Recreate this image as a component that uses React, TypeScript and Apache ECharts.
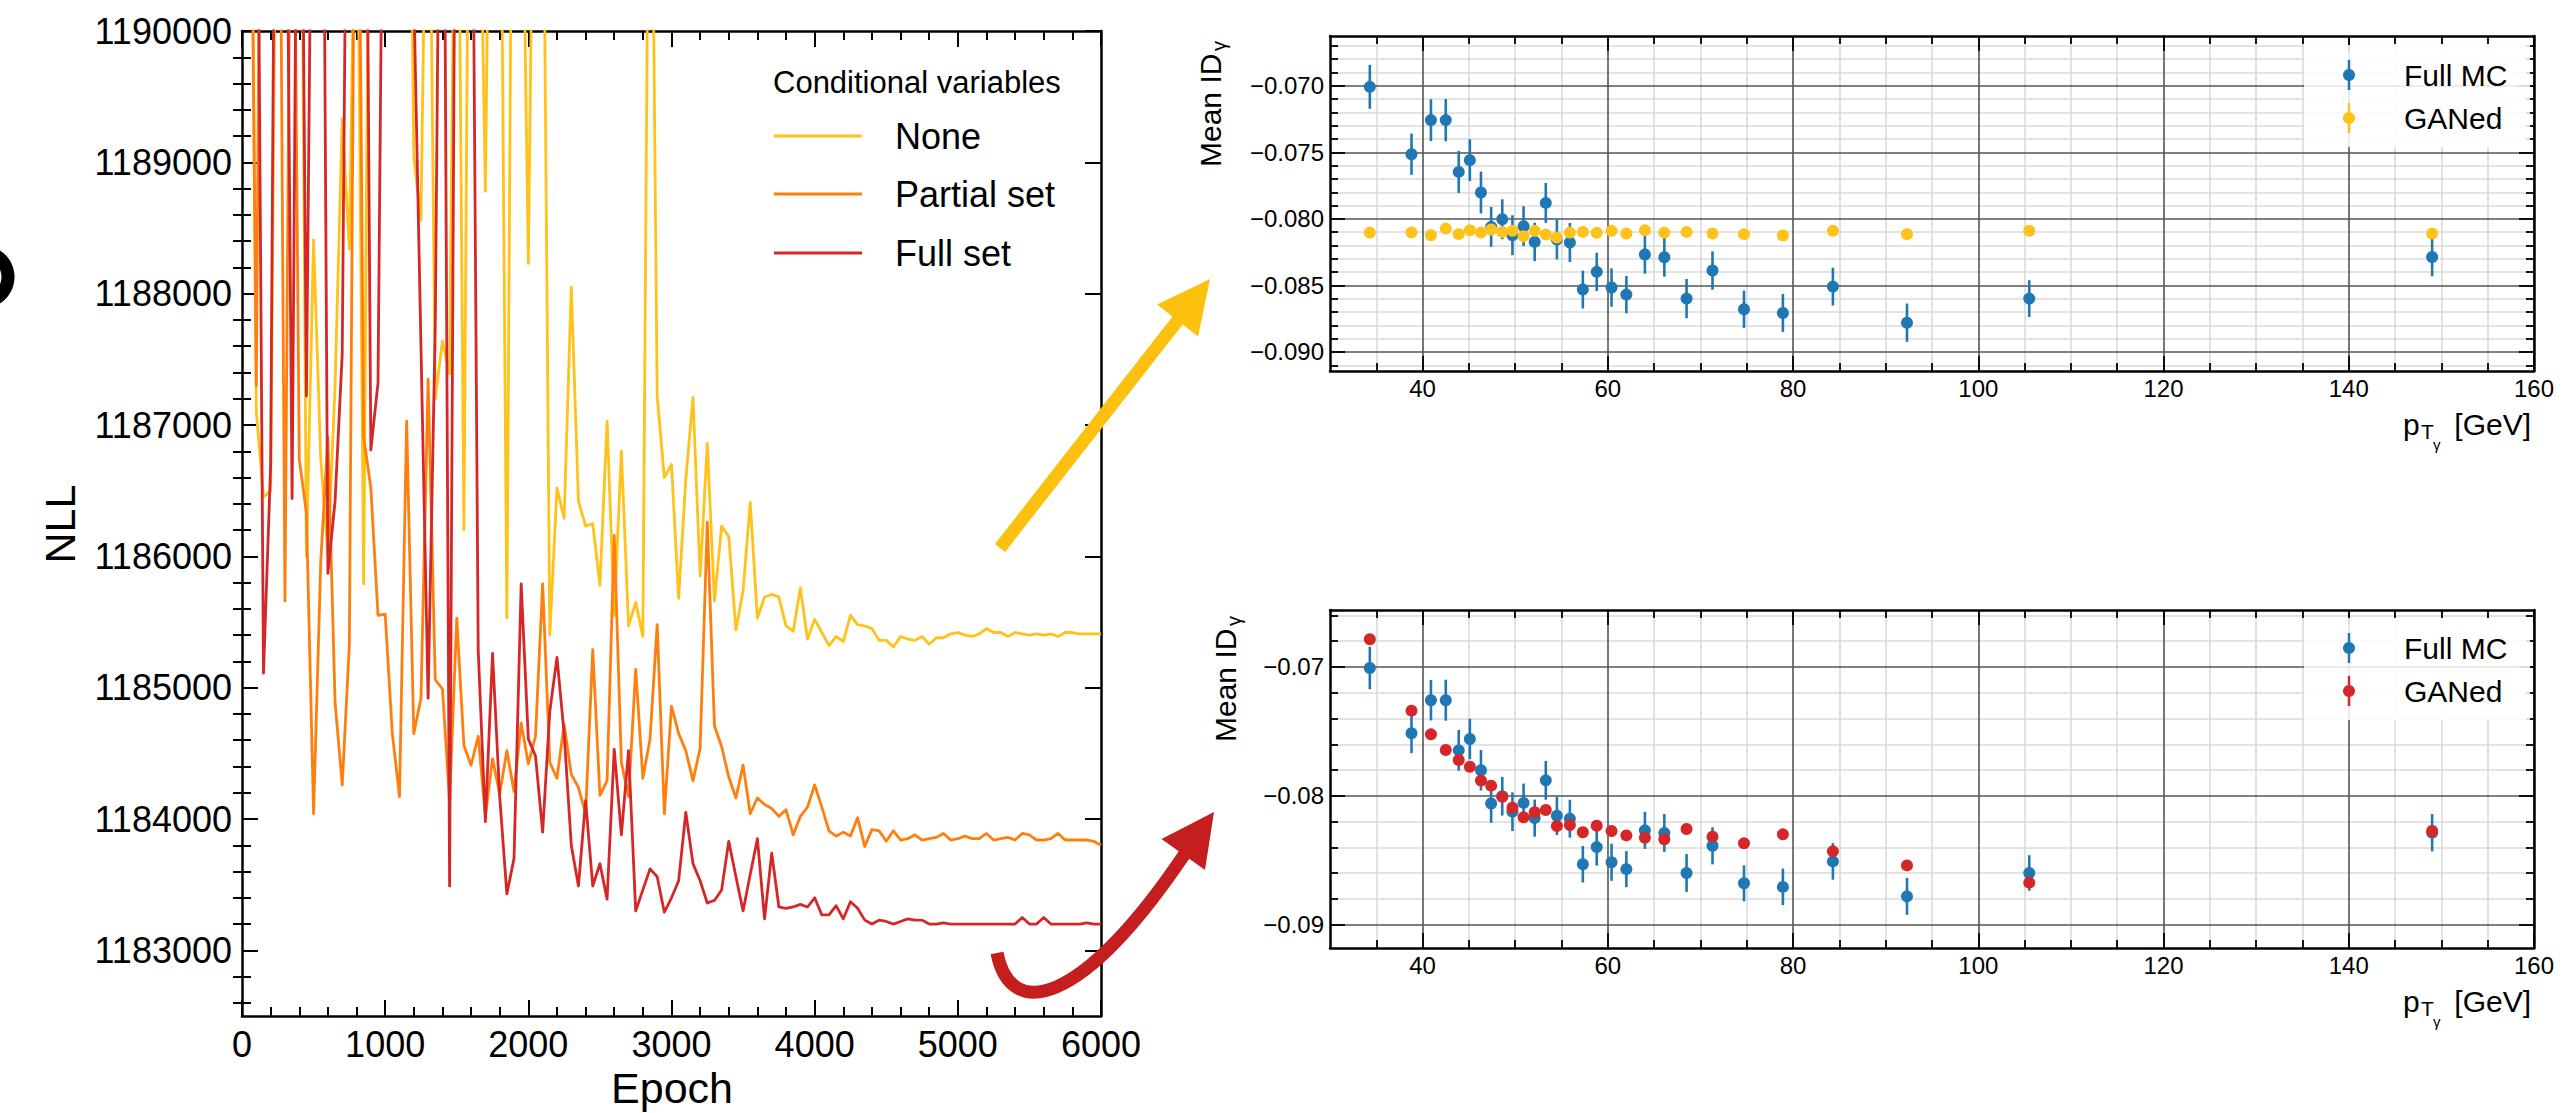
import React, { useEffect, useRef } from 'react';
import * as echarts from 'echarts';

const FONT = 'Liberation Sans, Arial, sans-serif';

// ---------------- Left panel: NLL vs Epoch ----------------
const epochs = [
  50, 100, 150, 200, 250, 300, 350, 400, 450, 500,
  550, 600, 650, 700, 750, 800, 850, 900, 950, 1000,
  1050, 1100, 1150, 1200, 1250, 1300, 1350, 1400, 1450, 1500,
  1550, 1600, 1650, 1700, 1750, 1800, 1850, 1900, 1950, 2000,
  2050, 2100, 2150, 2200, 2250, 2300, 2350, 2400, 2450, 2500,
  2550, 2600, 2650, 2700, 2750, 2800, 2850, 2900, 2950, 3000,
  3050, 3100, 3150, 3200, 3250, 3300, 3350, 3400, 3450, 3500,
  3550, 3600, 3650, 3700, 3750, 3800, 3850, 3900, 3950, 4000,
  4050, 4100, 4150, 4200, 4250, 4300, 4350, 4400, 4450, 4500,
  4550, 4600, 4650, 4700, 4750, 4800, 4850, 4900, 4950, 5000,
  5050, 5100, 5150, 5200, 5250, 5300, 5350, 5400, 5450, 5500,
  5550, 5600, 5650, 5700, 5750, 5800, 5850, 5900, 5950, 6000,
];

const nllNone = [
  1194000, 1187100, 1186450, 1186500, 1193000, 1195000, 1192500, 1194000, 1186000, 1188410,
  1186740, 1186010, 1187300, 1189330, 1188340, 1192000, 1185790, 1193500, 1194500, 1192800,
  1195500, 1193200, 1194200, 1189040, 1188560, 1192500, 1187200, 1187640, 1187390, 1193000,
  1186200, 1194000, 1192000, 1188780, 1193500, 1192500, 1185530, 1194000, 1192000, 1188230,
  1193000, 1192000, 1185400, 1186520, 1186290, 1188050, 1186420, 1186230, 1186250, 1185780,
  1187030, 1185550, 1186800, 1185470, 1185650, 1185390, 1193000, 1187220, 1186600, 1186700,
  1185680, 1186590, 1187210, 1185850, 1186860, 1185660, 1186230, 1186150, 1185440, 1185740,
  1186410, 1185530, 1185690, 1185710, 1185690, 1185470, 1185430, 1185760, 1185370, 1185520,
  1185420, 1185320, 1185390, 1185350, 1185550, 1185480, 1185470, 1185450, 1185360, 1185360,
  1185310, 1185390, 1185370, 1185360, 1185390, 1185330, 1185380, 1185380, 1185410, 1185420,
  1185400, 1185390, 1185410, 1185450, 1185420, 1185420, 1185390, 1185420, 1185410, 1185400,
  1185410, 1185400, 1185410, 1185390, 1185420, 1185420, 1185410, 1185410, 1185410, 1185410,
];

const nllPartial = [
  1193000, 1187300, 1195000, 1192500, 1194000, 1185660, 1193000, 1186740, 1186330, 1184040,
  1185960, 1186910, 1184890, 1184260, 1185330, 1193500, 1186910, 1186520, 1185550, 1185560,
  1184650, 1184170, 1187030, 1184650, 1184920, 1187350, 1185060, 1184990, 1184140, 1185530,
  1184560, 1184410, 1184630, 1184020, 1184460, 1184190, 1184520, 1184210, 1184730, 1184420,
  1184630, 1185790, 1184430, 1184310, 1184720, 1184340, 1184240, 1184040, 1185290, 1184180,
  1184290, 1186160, 1184430, 1184170, 1185140, 1184310, 1184610, 1185480, 1184040, 1184860,
  1184650, 1184520, 1184290, 1184540, 1186260, 1184710, 1184550, 1184320, 1184160, 1184410,
  1184040, 1184160, 1184110, 1184080, 1184020, 1184070, 1183880, 1184020, 1184090, 1184260,
  1184090, 1183910, 1183870, 1183900, 1183870, 1184010, 1183790, 1183920, 1183910, 1183830,
  1183910, 1183840, 1183850, 1183880, 1183840, 1183850, 1183860, 1183890, 1183840, 1183850,
  1183870, 1183850, 1183850, 1183890, 1183840, 1183850, 1183860, 1183840, 1183890, 1183880,
  1183840, 1183840, 1183850, 1183890, 1183840, 1183840, 1183840, 1183840, 1183830, 1183800,
];

const nllFull = [
  1194000, 1193000, 1185110, 1186690, 1195000, 1193000, 1186440, 1194000, 1187220, 1193000,
  1195000, 1185870, 1186420, 1187540, 1194000, 1192500, 1194500, 1186810, 1187320, 1193500,
  1192000, 1194000, 1193000, 1190300, 1187600, 1184920, 1187760, 1194000, 1183490, 1193500,
  1192000, 1193000, 1185280, 1183980, 1185260, 1184170, 1183430, 1183700, 1185790, 1184610,
  1184480, 1183900, 1184820, 1185230, 1184650, 1183800, 1183490, 1184140, 1183490, 1183660,
  1183390, 1184530, 1183880, 1184520, 1183300, 1183460, 1183620, 1183560, 1183290, 1183400,
  1183530, 1184050, 1183660, 1183530, 1183360, 1183380, 1183460, 1183830, 1183560, 1183300,
  1183580, 1183850, 1183240, 1183740, 1183330, 1183320, 1183330, 1183350, 1183330, 1183400,
  1183270, 1183270, 1183340, 1183240, 1183370, 1183320, 1183230, 1183200, 1183230, 1183220,
  1183200, 1183220, 1183240, 1183230, 1183230, 1183200, 1183200, 1183210, 1183200, 1183200,
  1183200, 1183200, 1183200, 1183200, 1183200, 1183200, 1183200, 1183200, 1183250, 1183200,
  1183200, 1183250, 1183200, 1183200, 1183200, 1183200, 1183200, 1183210, 1183200, 1183200,
];

const nllNames = ['None', 'Partial set', 'Full set'];
const nllColors = ['#FFC21A', '#FF7F0E', '#D62728'];
const nllXTicks = [0, 1000, 2000, 3000, 4000, 5000, 6000];
const nllYTicks = [1183000, 1184000, 1185000, 1186000, 1187000, 1188000, 1189000, 1190000];

// ---------------- Right panels: Mean ID_gamma vs pT ----------------
const ptBins = [34.3, 38.8, 40.9, 42.5, 43.9, 45.1, 46.3, 47.4, 48.6, 49.7, 50.9, 52.1, 53.3, 54.5, 55.9,
  57.3, 58.8, 60.4, 62.0, 64.0, 66.1, 68.5, 71.3, 74.7, 78.9, 84.3, 92.3, 105.5, 149.0];
const fullMcMean = [-0.07008, -0.07514, -0.07258, -0.07258, -0.07647, -0.07559, -0.07802, -0.0806, -0.08003,
  -0.08123, -0.08055, -0.08173, -0.0788, -0.08155, -0.08178, -0.08531, -0.08398, -0.08516, -0.08569, -0.08268,
  -0.08288, -0.08599, -0.08388, -0.08679, -0.08707, -0.08509, -0.0878, -0.08599, -0.08286];
const fullMcErr = [0.00165, 0.00155, 0.00157, 0.00159, 0.00158, 0.00157, 0.00157, 0.0015, 0.0015, 0.0015,
  0.0015, 0.00144, 0.0015, 0.0015, 0.00147, 0.00142, 0.00144, 0.00144, 0.0014, 0.00144, 0.00147, 0.00147,
  0.00144, 0.0014, 0.00142, 0.00142, 0.00144, 0.00138, 0.00145];
const ganedNoneMean = [-0.08103, -0.08103, -0.08123, -0.08073, -0.08115, -0.08085, -0.08103, -0.0808, -0.08098,
  -0.0809, -0.0813, -0.0809, -0.08118, -0.0814, -0.08103, -0.08098, -0.08105, -0.0809, -0.0811, -0.08085,
  -0.08103, -0.08098, -0.0811, -0.08115, -0.08125, -0.0809, -0.08115, -0.0809, -0.0811];
const ganedFullMean = [-0.06785, -0.07339, -0.07523, -0.07644, -0.07722, -0.07774, -0.07882, -0.07921, -0.08008,
  -0.08092, -0.08167, -0.08128, -0.0811, -0.08234, -0.08226, -0.08283, -0.08232, -0.08273, -0.08307, -0.08325,
  -0.08338, -0.08257, -0.08317, -0.08369, -0.08299, -0.08431, -0.0854, -0.08674, -0.08273];

const ptTicks = [40, 60, 80, 100, 120, 140, 160];
const idTopTicks = [-0.09, -0.085, -0.08, -0.075, -0.07];
const idBottomTicks = [-0.09, -0.08, -0.07];

const BLUE = '#1F77B4';
const GOLD = '#FFC21A';
const RED = '#D62728';

function minorsBetween(start: number, end: number, step: number, majors: number[]) {
  const out: number[] = [];
  const n = Math.round((end - start) / step);
  for (let i = 0; i <= n; i++) {
    const v = +(start + i * step).toFixed(6);
    if (!majors.some((m) => Math.abs(m - v) < step / 10)) out.push(v);
  }
  return out;
}

const GRIDS = [
  { left: 242, top: 31, width: 859, height: 985 },
  { left: 1330, top: 36, width: 1204, height: 335 },
  { left: 1330, top: 610, width: 1204, height: 338 },
];

function axisSet(dim: 'x' | 'y', gridIndex: number, min: number, max: number, majors: number[], minors: number[], cfg: any) {
  const p1 = dim === 'x' ? 'bottom' : 'left';
  const p2 = dim === 'x' ? 'top' : 'right';
  const line = { show: true, onZero: false, lineStyle: { color: '#000', width: cfg.lineWidth } };
  const base = { type: 'value', gridIndex, min, max, offset: 0, silent: true, minorTick: { show: false }, minorSplitLine: { show: false } };
  const majorTick = { show: true, inside: true, length: cfg.majorLen, customValues: majors, lineStyle: { color: '#000', width: cfg.tickWidth } };
  const minorTick = { show: true, inside: true, length: cfg.minorLen, customValues: minors, lineStyle: { color: '#000', width: cfg.tickWidth } };
  return [
    {
      ...base, position: p1, z: 1, axisLine: line, axisTick: majorTick,
      axisLabel: { show: true, customValues: majors, margin: cfg.margin, fontSize: cfg.fontSize, fontFamily: FONT, color: '#000', formatter: cfg.fmt },
      splitLine: { show: !!cfg.majorGrid, lineStyle: { color: cfg.majorGrid || '#000', width: 1.6 } },
    },
    { ...base, position: p2, z: 1, axisLine: line, axisTick: majorTick, axisLabel: { show: false }, splitLine: { show: false } },
    {
      ...base, position: p2, z: 0, axisLine: { show: false }, axisTick: minorTick, axisLabel: { show: false },
      splitLine: { show: !!cfg.minorGrid, lineStyle: { color: cfg.minorGrid || '#000', width: 1.6 } },
    },
    { ...base, position: p1, z: 0, axisLine: { show: false }, axisTick: minorTick, axisLabel: { show: false }, splitLine: { show: false } },
  ];
}

const minus = (v: number, d: number) => (v < 0 ? '\u2212' : '') + Math.abs(v).toFixed(d);

function txt(x: number, y: number, text: string, size: number, o: any = {}) {
  const align = o.align || 'left';
  const va = o.va || 'middle';
  return {
    type: 'text', x, y, rotation: o.rotation || 0, z: 100, silent: true,
    style: {
      text, fontSize: size, fontFamily: FONT, fontWeight: o.weight || 'normal', fill: o.color || '#000',
      align, verticalAlign: va, textAlign: align, textVerticalAlign: va,
    },
  };
}

function errLegend(x: number, y: number, color: string, label: string) {
  return [
    { type: 'line', z: 101, silent: true, shape: { x1: x, y1: y - 15, x2: x, y2: y + 15 }, style: { stroke: color, lineWidth: 2.5 } },
    { type: 'circle', z: 101, silent: true, shape: { cx: x, cy: y, r: 6 }, style: { fill: color } },
    txt(x + 55, y, label, 30),
  ];
}

function ptLabel(yc: number) {
  return [
    txt(2403, yc, 'p', 30),
    txt(2421, yc + 7, 'T', 21),
    txt(2433, yc + 20, '\u03B3', 15),
    txt(2531, yc, '[GeV]', 30, { align: 'right' }),
  ];
}

function meanIdLabel(x: number, yStart: number) {
  return [
    txt(x, yStart, 'Mean ID', 30, { rotation: Math.PI / 2 }),
    txt(x + 9, yStart - 116, '\u03B3', 20, { rotation: Math.PI / 2 }),
  ];
}

function errSeries(xi: number, yi: number) {
  return {
    type: 'custom', xAxisIndex: xi, yAxisIndex: yi, clip: true, z: 3, silent: true,
    data: ptBins.map((x, i) => [x, fullMcMean[i] - fullMcErr[i], fullMcMean[i] + fullMcErr[i]]),
    encode: { x: 0, y: [1, 2] },
    renderItem: (_p: any, api: any) => {
      const x = api.value(0);
      const a = api.coord([x, api.value(1)]);
      const b = api.coord([x, api.value(2)]);
      return { type: 'line', shape: { x1: a[0], y1: a[1], x2: b[0], y2: b[1] }, style: { stroke: BLUE, lineWidth: 2.6 } };
    },
  };
}

function scatter(xi: number, yi: number, ys: number[], color: string, z: number) {
  return {
    type: 'scatter', xAxisIndex: xi, yAxisIndex: yi, z, silent: true, symbol: 'circle', symbolSize: 12,
    itemStyle: { color, opacity: 1 }, data: ptBins.map((x, i) => [x, ys[i]]),
  };
}

export default function App() {
  const ref = useRef<HTMLDivElement>(null);
  useEffect(() => {
    if (!ref.current) return;
    const chart = echarts.init(ref.current, null, { renderer: 'svg' });

    const leftCfg = { lineWidth: 2.5, tickWidth: 2, majorLen: 16, minorLen: 9, fontSize: 36, margin: 10, fmt: (v: number) => String(Math.round(v)) };
    const rxCfg = { lineWidth: 2.5, tickWidth: 1.8, majorLen: 15, minorLen: 8, fontSize: 24, margin: 5, majorGrid: '#555555', minorGrid: '#dadada', fmt: (v: number) => String(Math.round(v)) };
    const ryTopCfg = { ...rxCfg, margin: 6, fmt: (v: number) => minus(v, 3) };
    const ryBotCfg = { ...rxCfg, margin: 6, fmt: (v: number) => minus(v, 2) };

    const xMinorLeft = minorsBetween(0, 6000, 200, nllXTicks);
    const yMinorLeft = minorsBetween(1182600, 1189800, 200, nllYTicks);
    const ptMinor = minorsBetween(35, 155, 5, ptTicks);
    const idTopMinor = minorsBetween(-0.091, -0.067, 0.001, idTopTicks);
    const idBotMinor = minorsBetween(-0.09, -0.066, 0.002, idBottomTicks);

    const xAxis = [
      ...axisSet('x', 0, 0, 6000, nllXTicks, xMinorLeft, leftCfg),
      ...axisSet('x', 1, 30, 160, ptTicks, ptMinor, rxCfg),
      ...axisSet('x', 2, 30, 160, ptTicks, ptMinor, rxCfg),
    ];
    const yAxis = [
      ...axisSet('y', 0, 1182500, 1190000, nllYTicks, yMinorLeft, leftCfg),
      ...axisSet('y', 1, -0.09143, -0.06626, idTopTicks, idTopMinor, ryTopCfg),
      ...axisSet('y', 2, -0.09181, -0.06558, idBottomTicks, idBotMinor, ryBotCfg),
    ];

    const nllData = [nllNone, nllPartial, nllFull];
    const lineSeries = nllData.map((vals, k) => ({
      type: 'line', name: nllNames[k], xAxisIndex: 0, yAxisIndex: 0, z: 2 + k, silent: true,
      symbol: 'none', showSymbol: false, clip: true,
      lineStyle: { color: nllColors[k], width: 2.8, join: 'round' }, itemStyle: { color: nllColors[k] },
      data: epochs.map((e, i) => [e, vals[i]]),
    }));

    const graphic: any[] = [
      // cropped glyph fragment at far left edge of the source figure
      {
        type: 'arc', z: 100, silent: true,
        shape: { cx: -17, cy: 277, r: 25, startAngle: -1.35, endAngle: 1.15, clockwise: true },
        style: { stroke: '#000', lineWidth: 13, fill: 'none' },
      },
      txt(60, 524, 'NLL', 43, { align: 'center', rotation: Math.PI / 2 }),
      txt(672, 1088, 'Epoch', 43, { align: 'center' }),
      txt(773, 82, 'Conditional variables', 31),
      ...nllNames.flatMap((n, k) => {
        const y = [136, 194, 253][k];
        return [
          { type: 'line', z: 100, silent: true, shape: { x1: 774, y1: y, x2: 862, y2: y }, style: { stroke: nllColors[k], lineWidth: 2.8 } },
          txt(895, y, n, 36),
        ];
      }),
      // top-right panel labels & legend
      ...meanIdLabel(1210, 167),
      ...ptLabel(424),
      { type: 'rect', z: 99, silent: true, shape: { x: 2304, y: 45, width: 226, height: 102 }, style: { fill: 'rgba(255,255,255,0.85)' } },
      ...errLegend(2349, 75, BLUE, 'Full MC'),
      ...errLegend(2349, 118, GOLD, 'GANed'),
      // bottom-right panel labels & legend
      ...meanIdLabel(1225, 742),
      ...ptLabel(1001),
      { type: 'rect', z: 99, silent: true, shape: { x: 2304, y: 618, width: 226, height: 102 }, style: { fill: 'rgba(255,255,255,0.85)' } },
      ...errLegend(2349, 648, BLUE, 'Full MC'),
      ...errLegend(2349, 691, RED, 'GANed'),
      // yellow arrow
      {
        type: 'polygon', z: 110, silent: true,
        shape: { points: [[994.9, 544], [1172.5, 316.5], [1157.1, 304.5], [1210, 279], [1198.1, 336.5], [1182.7, 324.5], [1005.1, 552]] },
        style: { fill: '#FBC10E' },
      },
      // red curved arrow
      {
        type: 'bezierCurve', z: 110, silent: true,
        shape: { x1: 997, y1: 953, cpx1: 1010, cpy1: 1020, cpx2: 1080, cpy2: 1010, x2: 1186, y2: 852 },
        style: { stroke: '#C41E1E', lineWidth: 13, fill: 'none', lineCap: 'butt' },
      },
      {
        type: 'polygon', z: 111, silent: true,
        shape: { points: [[1214, 812], [1161.5, 839], [1205, 870]] },
        style: { fill: '#C41E1E' },
      },
    ];

    chart.setOption({
      animation: false,
      backgroundColor: '#ffffff',
      grid: GRIDS.map((g) => ({ ...g, containLabel: false, outerBoundsMode: 'none', show: false })),
      xAxis,
      yAxis,
      series: [
        ...lineSeries,
        errSeries(4, 4),
        scatter(4, 4, fullMcMean, BLUE, 4),
        scatter(4, 4, ganedNoneMean, GOLD, 5),
        errSeries(8, 8),
        scatter(8, 8, fullMcMean, BLUE, 4),
        scatter(8, 8, ganedFullMean, RED, 5),
      ],
      graphic,
    });
    return () => chart.dispose();
  }, []);
  return <div ref={ref} style={{ position: 'absolute', left: 0, top: 0, width: 2576, height: 1113, background: '#fff' }} />;
}
